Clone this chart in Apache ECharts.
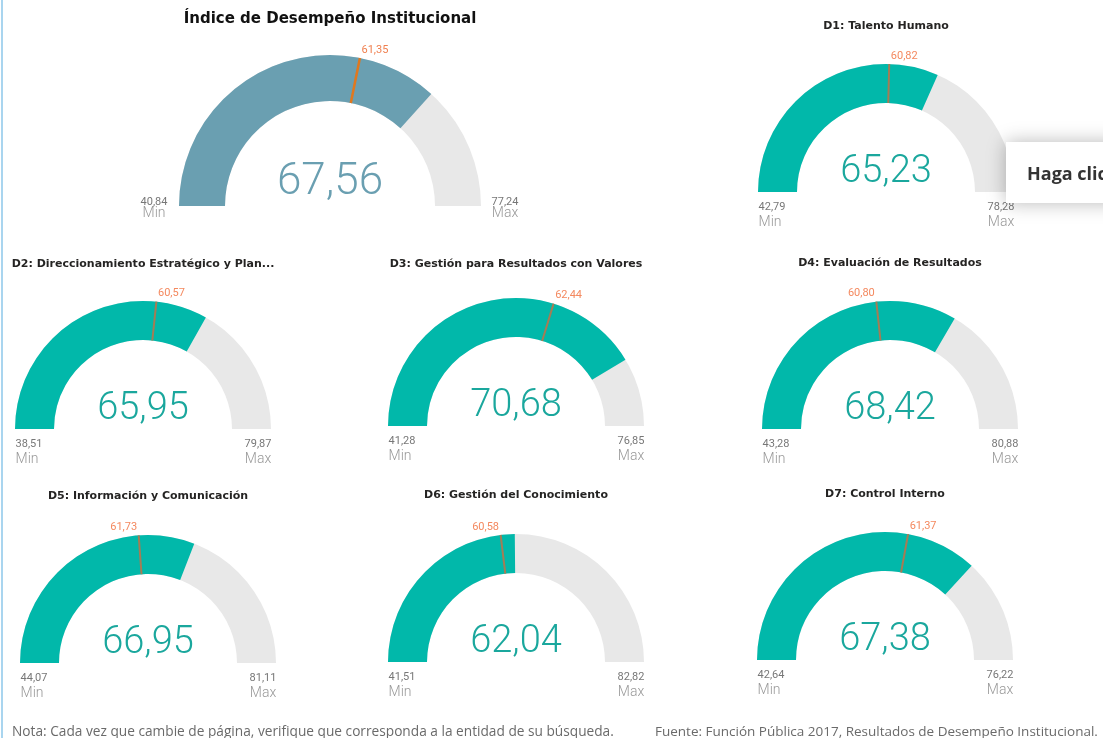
<!DOCTYPE html>
<html>
<head>
<meta charset="utf-8">
<script src="https://cdn.jsdelivr.net/npm/echarts@6/dist/echarts.min.js"></script>
<style>
html, body { margin: 0; padding: 0; background: #fff; }
#wrap { position: relative; width: 1103px; height: 738px; }
#gauges { width: 1103px; height: 738px; }
#edge { position: absolute; left: 1px; top: 0; width: 2px; height: 738px; background: #a9d5ef; }
</style>
</head>
<body>
<div id="wrap"><div id="gauges"></div><div id="edge"></div></div>
<script>
// datos de cada medidor
var gaugeTitles = [
    'Índice de Desempeño Institucional',
    'D1: Talento Humano',
    'D2: Direccionamiento Estratégico y Plan...',
    'D3: Gestión para Resultados con Valores',
    'D4: Evaluación de Resultados',
    'D5: Información y Comunicación',
    'D6: Gestión del Conocimiento',
    'D7: Control Interno'
];
var values = [67.56, 65.23, 65.95, 70.68, 68.42, 66.95, 62.04, 67.38];
var targets = [61.35, 60.82, 60.57, 62.44, 60.80, 61.73, 60.58, 61.37];
var minValues = [40.84, 42.79, 38.51, 41.28, 43.28, 44.07, 41.51, 42.64];
var maxValues = [77.24, 78.28, 79.87, 76.85, 80.88, 81.11, 82.82, 76.22];
var nota = 'Nota: Cada vez que cambie de página, verifique que corresponda a la entidad de su búsqueda.';
var fuente = 'Fuente: Función Pública 2017, Resultados de Desempeño Institucional.';

// posición de cada medidor: centro x, centro y, radio, grosor, y del título
var layout = [
    [330, 206, 151, 46, 21],
    [886, 192, 128, 39, 28],
    [143, 429, 128, 39, 266],
    [516, 426, 128, 39, 266],
    [890, 429, 128, 39, 265],
    [148, 663, 128, 39, 498],
    [516, 662, 128, 39, 497],
    [885, 660, 128, 39, 496]
];

var numFont = '"Roboto", sans-serif';
var fmt = function (v) { return Number(v).toFixed(2).replace('.', ','); };

var chart = echarts.init(document.getElementById('gauges'));

var titles = [];
var series = [];

gaugeTitles.forEach(function (name, i) {
    var cx = layout[i][0], cy = layout[i][1], R = layout[i][2], W = layout[i][3];
    var main = i === 0;
    var fill = main ? '#6a9fb1' : '#01b8aa';

    titles.push({
        text: name,
        left: cx,
        top: layout[i][4] - (main ? 9 : 7),
        textAlign: 'center',
        padding: 0,
        textStyle: {
            fontFamily: '"DejaVu Sans", sans-serif',
            fontSize: main ? 15 : 11,
            fontWeight: 'bold',
            color: main ? '#111' : '#252423'
        }
    });

    var base = {
        type: 'gauge',
        center: [cx, cy],
        radius: R,
        startAngle: 180,
        endAngle: 0,
        min: minValues[i],
        max: maxValues[i],
        splitNumber: 1,
        axisTick: { show: false },
        splitLine: { show: false },
        axisLabel: { show: false },
        anchor: { show: false },
        silent: true
    };

    // arco con el valor
    series.push(Object.assign({}, base, {
        z: 2,
        axisLine: { lineStyle: { width: W, color: [[1, '#e8e8e8']] } },
        progress: { show: true, width: W, itemStyle: { color: fill } },
        pointer: { show: false },
        title: { show: false },
        detail: {
            offsetCenter: [0, main ? -23 : -20],
            fontSize: main ? 44 : 38,
            fontWeight: 300,
            fontFamily: numFont,
            color: main ? '#6a9fb1' : '#1aa79d',
            formatter: fmt
        },
        data: [{ value: values[i] }]
    }));

    // marca de la meta
    var a = Math.PI * (1 - (targets[i] - minValues[i]) / (maxValues[i] - minValues[i]));
    var side = Math.cos(a) >= 0 ? 15 : -15;
    series.push(Object.assign({}, base, {
        z: 5,
        axisLine: { show: false },
        progress: { show: false },
        pointer: {
            show: true,
            icon: 'rect',
            width: main ? 2.5 : 2,
            length: W,
            offsetCenter: [0, -(R - W)],
            itemStyle: { color: main ? '#e0781e' : '#a57c55' }
        },
        title: { show: false },
        detail: {
            offsetCenter: [R * Math.cos(a) + side, -R * Math.sin(a) - 8],
            fontSize: 11,
            fontWeight: 'normal',
            fontFamily: numFont,
            color: main ? '#f08050' : '#f4895f',
            formatter: fmt
        },
        data: [{ value: targets[i] }]
    }));

    // etiquetas min / max
    var pos = main
        ? [[-176, -4], [-176, 7], [175, -4], [175, 7]]
        : [[-R + 14, 15], [-R + 12, 30], [R - 13, 15], [R - 13, 30]];
    series.push(Object.assign({}, base, {
        z: 5,
        axisLine: { show: false },
        progress: { show: false },
        pointer: { show: false },
        title: { fontSize: 14, fontFamily: numFont, fontWeight: 300, color: '#999' },
        detail: { fontSize: 11, fontFamily: numFont, fontWeight: 'normal', color: '#777', formatter: fmt },
        data: [
            { name: 'Min', value: minValues[i], detail: { offsetCenter: pos[0] }, title: { offsetCenter: pos[1] } },
            { name: 'Max', value: maxValues[i], detail: { offsetCenter: pos[2] }, title: { offsetCenter: pos[3] } }
        ]
    }));
});

titles.push({
    text: nota, left: 12, top: 725, padding: 0,
    textStyle: { fontFamily: '"Open Sans", sans-serif', fontSize: 13.7, fontWeight: 'normal', color: '#6a6a6a' }
});
titles.push({
    text: fuente, left: 655, top: 725, padding: 0,
    textStyle: { fontFamily: '"Open Sans", sans-serif', fontSize: 13.5, fontWeight: 'normal', color: '#6a6a6a' }
});

chart.setOption({
    backgroundColor: '#fff',
    animation: false,
    title: titles,
    series: series,
    graphic: [
        {
            type: 'rect', z: 100,
            shape: { x: 1006, y: 142, width: 120, height: 61 },
            style: { fill: '#fff', shadowBlur: 18, shadowColor: 'rgba(0,0,0,0.28)' }
        },
        {
            type: 'text', z: 101,
            style: {
                x: 1027, y: 175, text: 'Haga clic aquí', verticalAlign: 'middle',
                font: 'bold 18px "Open Sans", sans-serif', fill: '#333'
            }
        }
    ]
});
</script>
</body>
</html>
